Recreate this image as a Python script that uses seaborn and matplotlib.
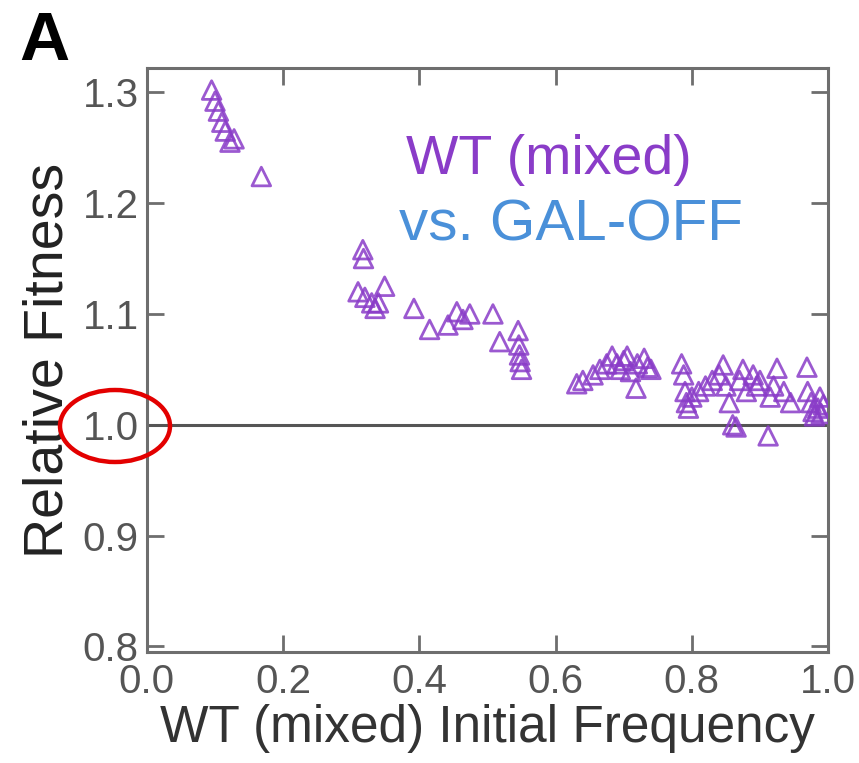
import matplotlib
matplotlib.use("Agg")
import matplotlib.pyplot as plt
from matplotlib.patches import Ellipse
import seaborn as sns
import pandas as pd

# ---- data ----
init_freq = [
    0.095, 0.100, 0.105, 0.110, 0.115, 0.122, 0.128, 0.168,
    0.317, 0.318, 0.310, 0.320, 0.330, 0.335, 0.340, 0.349,
    0.392, 0.415, 0.442, 0.455, 0.464, 0.474, 0.508, 0.518,
    0.545, 0.546, 0.547, 0.548, 0.550,
    0.631, 0.640, 0.655, 0.665, 0.675, 0.683, 0.690, 0.695, 0.700,
    0.705, 0.710, 0.718, 0.720, 0.730, 0.735, 0.740,
    0.785, 0.788, 0.790, 0.792, 0.795, 0.800, 0.810, 0.820, 0.830,
    0.840, 0.846, 0.850, 0.855, 0.860, 0.865, 0.870, 0.875, 0.880,
    0.890, 0.895, 0.900, 0.912, 0.915, 0.920, 0.925, 0.935, 0.945,
    0.969, 0.970, 0.975, 0.978, 0.980, 0.985, 0.988, 0.990, 0.993,
]
rel_fitness = [
    1.302, 1.292, 1.283, 1.273, 1.265, 1.255, 1.258, 1.224,
    1.158, 1.150, 1.120, 1.115, 1.110, 1.105, 1.110, 1.125,
    1.105, 1.086, 1.090, 1.102, 1.095, 1.100, 1.100, 1.075,
    1.085, 1.072, 1.063, 1.057, 1.050,
    1.037, 1.040, 1.045, 1.050, 1.055, 1.062, 1.055, 1.050, 1.058,
    1.062, 1.048, 1.033, 1.055, 1.060, 1.052, 1.050,
    1.055, 1.045, 1.030, 1.020, 1.015, 1.025, 1.030, 1.035, 1.040,
    1.045, 1.054, 1.035, 1.020, 1.000, 0.998, 1.040, 1.050, 1.030,
    1.045, 1.035, 1.040, 0.990, 1.025, 1.035, 1.051, 1.030, 1.020,
    1.052, 1.030, 1.020, 1.012, 1.008, 1.015, 1.025, 1.010, 1.018,
]
x_ticks = [0.0, 0.2, 0.4, 0.6, 0.8, 1.0]
y_ticks = [0.8, 0.9, 1.0, 1.1, 1.2, 1.3]

df = pd.DataFrame({"freq": init_freq, "fit": rel_fitness})

purple = "#8a3cc8"
blue = "#4a90d9"
spine_gray = "#6e6e6e"

sns.set_style("ticks")
plt.rcParams["font.family"] = ["Liberation Sans", "DejaVu Sans"]

fig = plt.figure(figsize=(8.59, 7.63), dpi=100)
ax = fig.add_axes([0.171, 0.1455, 0.793, 0.7655])

sns.scatterplot(data=df, x="freq", y="fit", marker="^", s=180, ax=ax,
                color=purple, linewidth=2.0, zorder=3)
pts = ax.collections[0]
pts.set_facecolor("none")
pts.set_edgecolor(purple)
pts.set_alpha(0.85)

ax.axhline(1.0, color="#555555", lw=2.2, zorder=2)

ax.set_xlim(0.0, 1.0)
ax.set_ylim(0.795, 1.322)
ax.set_xticks(x_ticks)
ax.set_yticks(y_ticks)
ax.set_xticklabels([f"{v:.1f}" for v in x_ticks])
ax.set_yticklabels([f"{v:.1f}" for v in y_ticks])

for sp in ax.spines.values():
    sp.set_visible(True)
    sp.set_color(spine_gray)
    sp.set_linewidth(2.2)

ax.tick_params(axis="both", which="major", direction="in", length=12,
               width=2, color=spine_gray, labelsize=29,
               labelcolor="#555555", top=True, right=True)
ax.tick_params(axis="x", pad=8)
ax.tick_params(axis="y", pad=6)

ax.set_xlabel("WT (mixed) Initial Frequency", fontsize=37, color="#333333",
              labelpad=2)
ax.set_ylabel("Relative Fitness", fontsize=40, color="#222222", labelpad=6)

ax.text(0.590, 0.842, "WT (mixed)", transform=ax.transAxes, fontsize=40,
        color=purple, ha="center", va="center")
ax.text(0.622, 0.731, "vs. GAL-OFF", transform=ax.transAxes, fontsize=42,
        color=blue, ha="center", va="center")

fig.text(0.022, 0.945, "A", fontsize=50, fontweight="bold", color="black",
         ha="left", va="center")

# red highlight ellipse around the 1.0 tick label
ell = Ellipse((115 / 859, 1 - 426 / 763), width=110 / 859, height=72 / 763,
              transform=fig.transFigure, fill=False, edgecolor="#e30000",
              linewidth=3.2, zorder=10)
fig.patches.append(ell)

fig.savefig("out.png", dpi=100)
